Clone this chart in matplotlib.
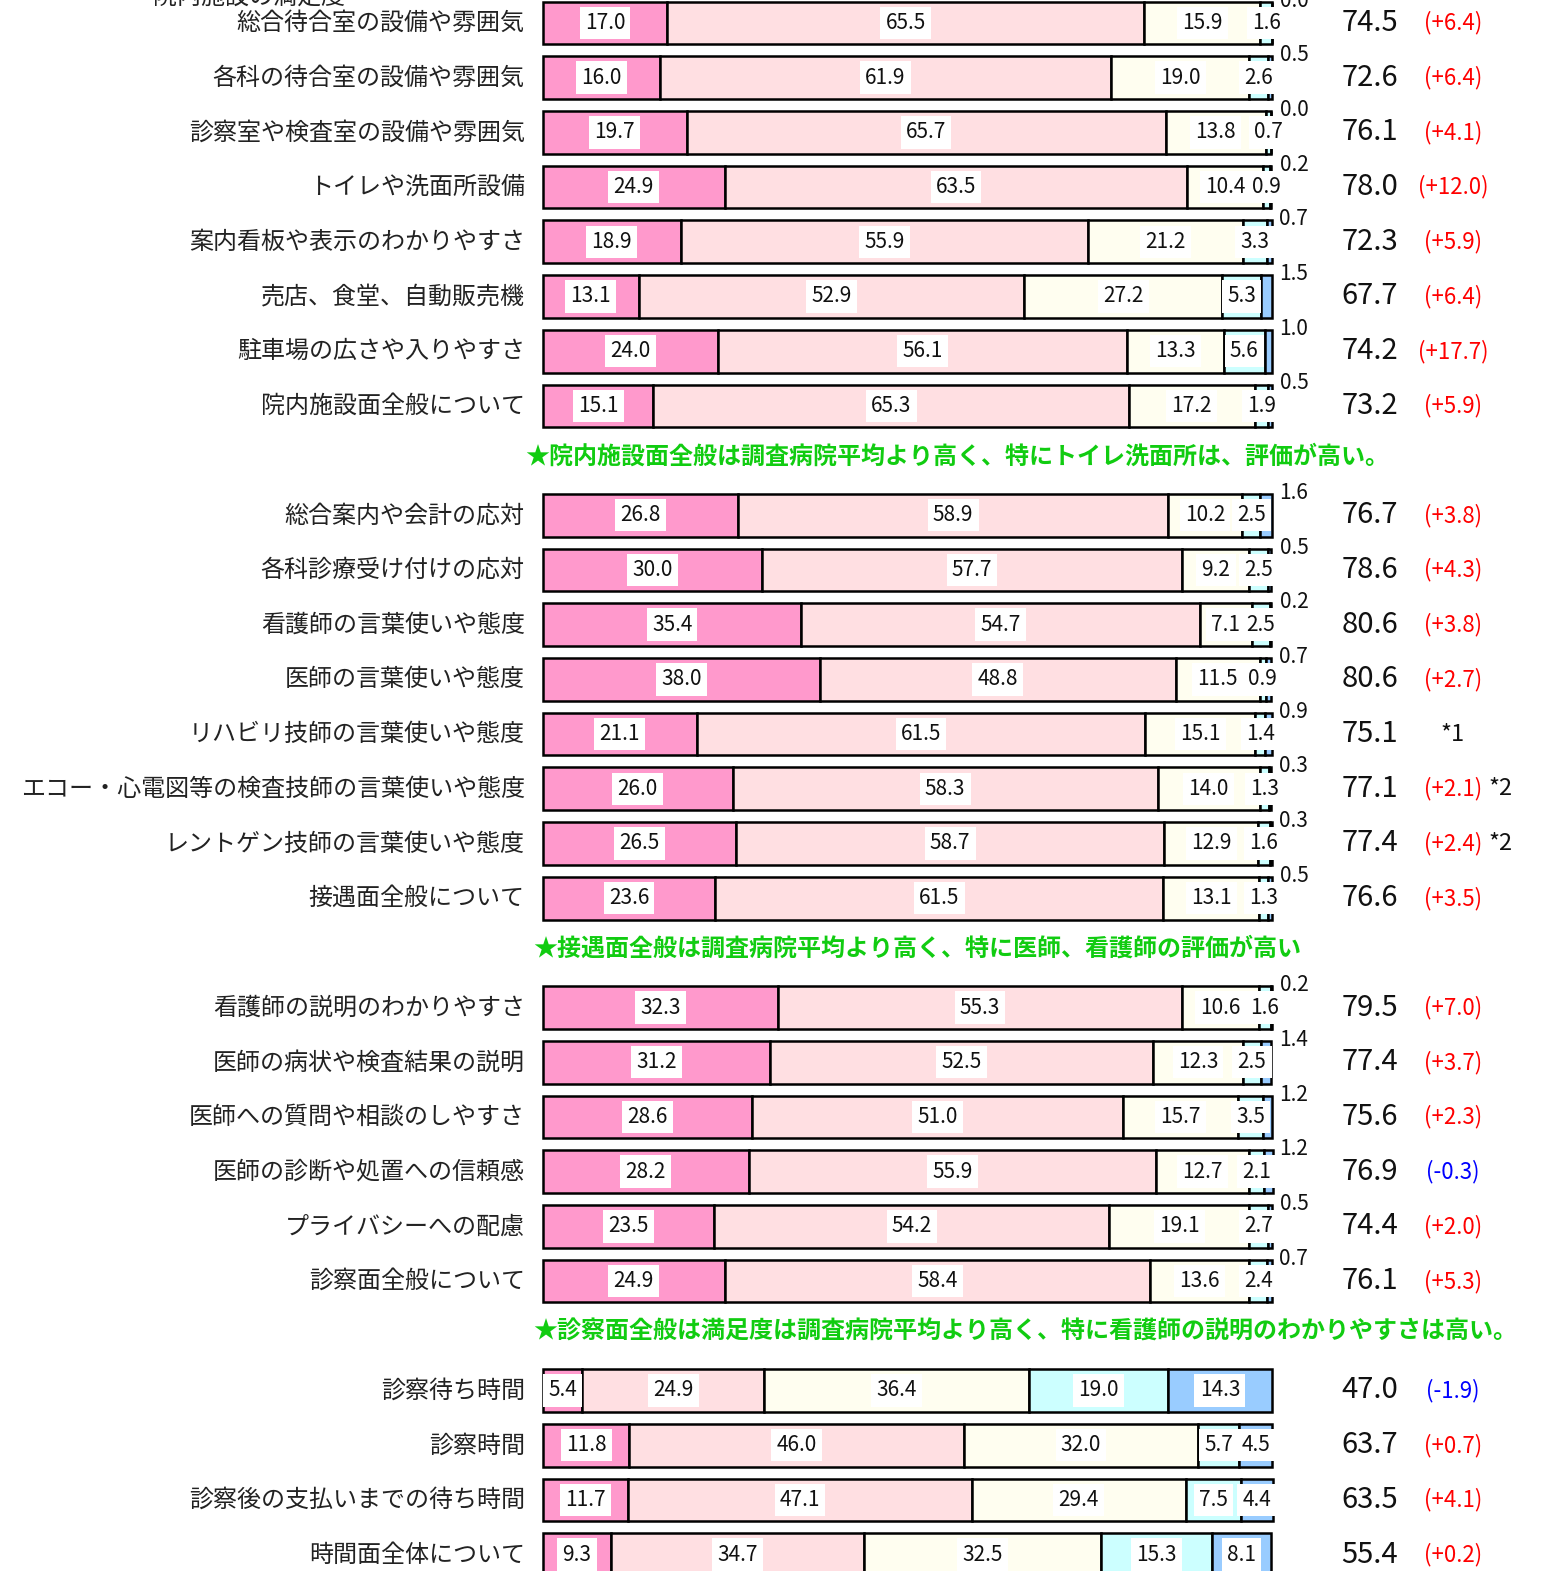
import numpy as np
import matplotlib.pyplot as plt

plt.rcParams['font.family'] = ['Noto Sans CJK JP', 'DejaVu Sans']

# 設問（グループごと）
items = [
    # 施設面
    "総合待合室の設備や雰囲気", "各科の待合室の設備や雰囲気", "診察室や検査室の設備や雰囲気",
    "トイレや洗面所設備", "案内看板や表示のわかりやすさ", "売店、食堂、自動販売機",
    "駐車場の広さや入りやすさ", "院内施設面全般について",
    # 接遇面
    "総合案内や会計の応対", "各科診療受け付けの応対", "看護師の言葉使いや態度",
    "医師の言葉使いや態度", "リハビリ技師の言葉使いや態度",
    "エコー・心電図等の検査技師の言葉使いや態度", "レントゲン技師の言葉使いや態度",
    "接遇面全般について",
    # 診察面
    "看護師の説明のわかりやすさ", "医師の病状や検査結果の説明", "医師への質問や相談のしやすさ",
    "医師の診断や処置への信頼感", "プライバシーへの配慮", "診察面全般について",
    # 時間面
    "診察待ち時間", "診察時間", "診察後の支払いまでの待ち時間", "時間面全体について",
]
group_sizes = [8, 8, 6, 4]

# 満足 / やや満足 / どちらでもない / やや不満 / 不満  (%)
v_very_sat = [17.0, 16.0, 19.7, 24.9, 18.9, 13.1, 24.0, 15.1,
              26.8, 30.0, 35.4, 38.0, 21.1, 26.0, 26.5, 23.6,
              32.3, 31.2, 28.6, 28.2, 23.5, 24.9,
              5.4, 11.8, 11.7, 9.3]
v_sat = [65.5, 61.9, 65.7, 63.5, 55.9, 52.9, 56.1, 65.3,
         58.9, 57.7, 54.7, 48.8, 61.5, 58.3, 58.7, 61.5,
         55.3, 52.5, 51.0, 55.9, 54.2, 58.4,
         24.9, 46.0, 47.1, 34.7]
v_neutral = [15.9, 19.0, 13.8, 10.4, 21.2, 27.2, 13.3, 17.2,
             10.2, 9.2, 7.1, 11.5, 15.1, 14.0, 12.9, 13.1,
             10.6, 12.3, 15.7, 12.7, 19.1, 13.6,
             36.4, 32.0, 29.4, 32.5]
v_dissat = [1.6, 2.6, 0.7, 0.9, 3.3, 5.3, 5.6, 1.9,
            2.5, 2.5, 2.5, 0.9, 1.4, 1.3, 1.6, 1.3,
            1.6, 2.5, 3.5, 2.1, 2.7, 2.4,
            19.0, 5.7, 7.5, 15.3]
v_very_dissat = [0.0, 0.5, 0.0, 0.2, 0.7, 1.5, 1.0, 0.5,
                 1.6, 0.5, 0.2, 0.7, 0.9, 0.3, 0.3, 0.5,
                 0.2, 1.4, 1.2, 1.2, 0.5, 0.7,
                 14.3, 4.5, 4.4, 8.1]

scores = [74.5, 72.6, 76.1, 78.0, 72.3, 67.7, 74.2, 73.2,
          76.7, 78.6, 80.6, 80.6, 75.1, 77.1, 77.4, 76.6,
          79.5, 77.4, 75.6, 76.9, 74.4, 76.1,
          47.0, 63.7, 63.5, 55.4]
changes = ["+6.4", "+6.4", "+4.1", "+12.0", "+5.9", "+6.4", "+17.7", "+5.9",
           "+3.8", "+4.3", "+3.8", "+2.7", "", "+2.1", "+2.4", "+3.5",
           "+7.0", "+3.7", "+2.3", "-0.3", "+2.0", "+5.3",
           "-1.9", "+0.7", "+4.1", "+0.2"]
notes = ["", "", "", "", "", "", "", "",
         "", "", "", "", "*1", "*2", "*2", "",
         "", "", "", "", "", "",
         "", "", "", ""]

comments = [
    "★院内施設面全般は調査病院平均より高く、特にトイレ洗面所は、評価が高い。",
    "★接遇面全般は調査病院平均より高く、特に医師、看護師の評価が高い",
    "★診察面全般は満足度は調査病院平均より高く、特に看護師の説明のわかりやすさは高い。",
]

colors = ["#FF99CC", "#FFDFE2", "#FFFEF0", "#CCFFFF", "#99CCFF"]

# 行位置（グループ間は1行あける）
pos = []
comment_pos = []
p = 0
for gi, n in enumerate(group_sizes):
    for _ in range(n):
        pos.append(p)
        p += 1
    if gi < len(group_sizes) - 1:
        comment_pos.append(p - 0.08)
        p += 1
pos = np.array(pos)

fig = plt.figure(figsize=(15.48, 15.71), dpi=100)
ax = fig.add_axes([0, 0, 1, 1])
ax.set_xlim(-74.49, 137.86)
ax.set_ylim(28.30, -0.42)
ax.axis('off')

h = 0.78
series = [v_very_sat, v_sat, v_neutral, v_dissat, v_very_dissat]
left = np.zeros(len(items))
for k, vals in enumerate(series):
    vals = np.array(vals)
    ax.barh(pos, vals, left=left, height=h, color=colors[k],
            edgecolor='black', linewidth=1.8, zorder=2)
    for i in range(len(items)):
        v = vals[i]
        if k == 4 and v < 3:
            ax.text(103.0, pos[i] - h / 2 - 0.02, f"{v:.1f}", ha='center',
                    va='center', fontsize=15, color='#111', zorder=4)
        else:
            ax.text(left[i] + v / 2, pos[i], f"{v:.1f}", ha='center', va='center',
                    fontsize=15, color='#111', zorder=3 + k * 0.1,
                    bbox=dict(boxstyle='square,pad=0.25', fc='white', ec='none'))
    left = left + vals

for i, name in enumerate(items):
    y = pos[i]
    ax.text(-2.5, y, name, ha='right', va='center', fontsize=17.3, color='#222')
    ax.text(113.4, y, f"{scores[i]:.1f}", ha='center', va='center', fontsize=21, color='#111')
    if changes[i]:
        c = '#FF0000' if changes[i].startswith('+') else '#0000FF'
        ax.text(124.8, y, f"({changes[i]})", ha='center', va='center', fontsize=16, color=c)
        if notes[i]:
            ax.text(131.3, y, notes[i], ha='center', va='center', fontsize=17, color='#111')
    elif notes[i]:
        ax.text(124.8, y, notes[i], ha='center', va='center', fontsize=17, color='#111')

comment_x = [-2.47, -1.37, -1.37]
for cx, cy, txt in zip(comment_x, comment_pos, comments):
    ax.text(cx, cy, txt, ha='left', va='center', fontsize=17.3,
            fontweight='bold', color='#11CC11')

# 上端で切れている見出し
ax.text(-27.2, -0.36, "院内施設の満足度", ha='right', va='baseline',
        fontsize=17.3, color='#222')

fig.savefig("out.png", dpi=100)
